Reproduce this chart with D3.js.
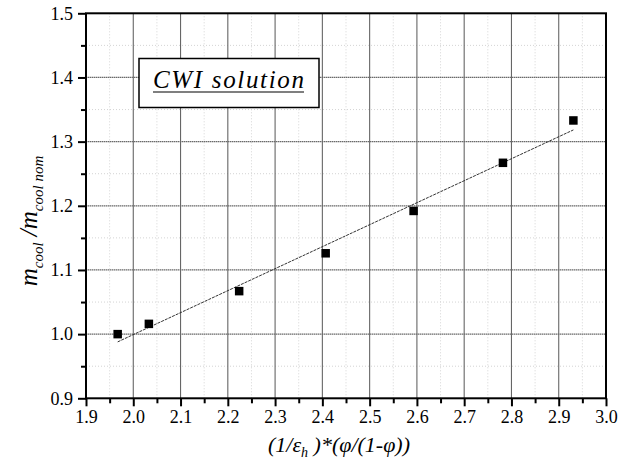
<!DOCTYPE html>
<html>
<head>
<meta charset="utf-8">
<script src="https://cdn.jsdelivr.net/npm/d3@7"></script>
<style>
  body { margin: 0; background: #fff; }
  svg { display: block; font-family: "Liberation Serif", "DejaVu Serif", serif; }
</style>
</head>
<body>
<svg width="637" height="461"></svg>
<script>
// values
const xValues = [1.967, 2.033, 2.224, 2.407, 2.593, 2.782, 2.931]
const yValues = [1.000, 1.016, 1.067, 1.126, 1.192, 1.267, 1.333]
const xTicks = [1.9, 2.0, 2.1, 2.2, 2.3, 2.4, 2.5, 2.6, 2.7, 2.8, 2.9, 3.0]
const yTicks = [0.9, 1.0, 1.1, 1.2, 1.3, 1.4, 1.5]
const xMinor = [1.95, 2.05, 2.15, 2.25, 2.35, 2.45, 2.55, 2.65, 2.75, 2.85, 2.95]
const yMinor = [0.95, 1.05, 1.15, 1.25, 1.35, 1.45]
const boxTitle = 'CWI solution'

const padLeft = 86
const padRight = 606
const padTop = 13.3
const padBottom = 398.3
const serif = '"Liberation Serif", "Times New Roman", serif'

const svg = d3.select('svg')

const xScale = d3.scaleLinear().domain([1.9, 3.0]).range([padLeft, padRight])
const yScale = d3.scaleLinear().domain([0.9, 1.5]).range([padBottom, padTop])

// minor grid
const grid = svg.append('g')
grid.selectAll('.vminor').data(xMinor).join('line')
    .attr('x1', d => xScale(d)).attr('x2', d => xScale(d))
    .attr('y1', padTop).attr('y2', padBottom)
    .attr('stroke', '#d4d4d4').attr('stroke-dasharray', '1,2')
grid.selectAll('.hminor').data(yMinor).join('line')
    .attr('y1', d => yScale(d)).attr('y2', d => yScale(d))
    .attr('x1', padLeft).attr('x2', padRight)
    .attr('stroke', '#d4d4d4').attr('stroke-dasharray', '1,2')

// major grid
grid.selectAll('.vmajor').data(xTicks.slice(1, -1)).join('line')
    .attr('x1', d => xScale(d)).attr('x2', d => xScale(d))
    .attr('y1', padTop).attr('y2', padBottom)
    .attr('stroke', '#666').attr('stroke-width', 1.1)
grid.selectAll('.hmajor').data(yTicks.slice(1, -1)).join('line')
    .attr('y1', d => yScale(d)).attr('y2', d => yScale(d))
    .attr('x1', padLeft).attr('x2', padRight)
    .attr('stroke', '#6a6a6a').attr('stroke-width', 1.3)
    .attr('stroke-dasharray', '1.5,0.5')

// title box
const box = svg.append('g')
box.append('rect')
   .attr('x', 139).attr('y', 58.5)
   .attr('width', 180).attr('height', 49)
   .attr('fill', '#fff').attr('stroke', '#000').attr('stroke-width', 1.5)
box.append('text')
   .text(boxTitle)
   .attr('x', 153).attr('y', 88)
   .attr('font-family', serif)
   .attr('font-size', 25).attr('font-style', 'italic')
   .attr('textLength', 151).attr('lengthAdjust', 'spacing')
box.append('line')
   .attr('x1', 153).attr('x2', 304)
   .attr('y1', 92).attr('y2', 92)
   .attr('stroke', '#000').attr('stroke-width', 1.2)

// fitted line (least squares through the points)
const xm = d3.mean(xValues)
const ym = d3.mean(yValues)
const slope = d3.sum(xValues, (x, i) => (x - xm) * (yValues[i] - ym)) /
              d3.sum(xValues, x => (x - xm) ** 2)
const fit = x => ym + slope * (x - xm)
const ends = d3.extent(xValues)
svg.append('line')
   .attr('x1', xScale(ends[0])).attr('y1', yScale(fit(ends[0])))
   .attr('x2', xScale(ends[1])).attr('y2', yScale(fit(ends[1])))
   .attr('stroke', '#333').attr('stroke-width', 1)
   .attr('stroke-dasharray', '3,1')

// points
const sq = 8.5
svg.append('g')
   .selectAll('rect')
   .data(xValues)
   .join('rect')
   .attr('x', d => xScale(d) - sq / 2)
   .attr('y', (d, i) => yScale(yValues[i]) - sq / 2)
   .attr('width', sq).attr('height', sq)
   .attr('fill', '#000')

// frame
svg.append('rect')
   .attr('x', padLeft).attr('y', padTop)
   .attr('width', padRight - padLeft).attr('height', padBottom - padTop)
   .attr('fill', 'none').attr('stroke', '#000').attr('stroke-width', 2)

// axes
const xAxis = d3.axisBottom(xScale)
                .tickValues(xTicks)
                .tickFormat(d3.format('.1f'))
                .tickSize(8).tickPadding(4)
const yAxis = d3.axisLeft(yScale)
                .tickValues(yTicks)
                .tickFormat(d3.format('.1f'))
                .tickSize(8).tickPadding(5)

const styleAxis = g => {
  g.attr('font-family', serif)
  g.select('.domain').remove()
  g.selectAll('line').attr('stroke', '#000').attr('stroke-width', 2)
  g.selectAll('text').attr('font-size', 18).attr('fill', '#000')
}

svg.append('g')
   .attr('transform', `translate(0, ${padBottom})`)
   .call(xAxis).call(styleAxis)
svg.append('g')
   .attr('transform', `translate(${padLeft}, 0)`)
   .call(yAxis).call(styleAxis)

svg.append('g')
   .attr('transform', `translate(0, ${padBottom})`)
   .call(d3.axisBottom(xScale).tickValues(xMinor).tickFormat('').tickSize(5))
   .call(styleAxis)
svg.append('g')
   .attr('transform', `translate(${padLeft}, 0)`)
   .call(d3.axisLeft(yScale).tickValues(yMinor).tickFormat('').tickSize(5))
   .call(styleAxis)

// x axis title
const xt = svg.append('text')
   .attr('x', 339).attr('y', 452)
   .attr('text-anchor', 'middle')
   .attr('font-family', serif)
   .attr('font-size', 22).attr('font-style', 'italic')
xt.append('tspan').text('(1/ε')
xt.append('tspan').text('h').attr('font-size', 14).attr('dy', 5)
xt.append('tspan').text(' )*(φ/(1-φ))').attr('dy', -5)

// y axis title
const yt = svg.append('text')
   .attr('transform', 'translate(37, 221) rotate(-90)')
   .attr('text-anchor', 'middle')
   .attr('font-family', serif)
   .attr('font-size', 25).attr('font-style', 'italic')
yt.append('tspan').text('m')
yt.append('tspan').text('cool').attr('font-size', 15).attr('dy', 6)
yt.append('tspan').text('  /m').attr('dy', -6)
yt.append('tspan').text('cool nom').attr('font-size', 15).attr('dy', 6)
</script>
</body>
</html>
